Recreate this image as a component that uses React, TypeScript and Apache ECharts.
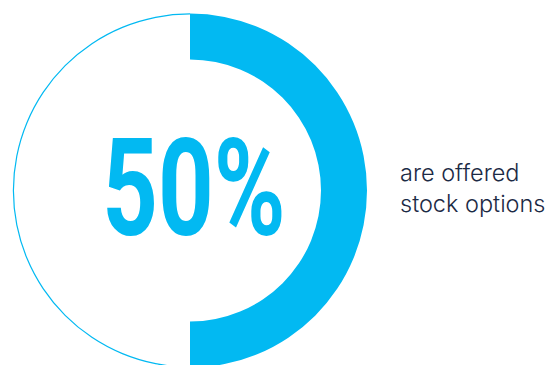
import React, { useEffect, useRef } from "react";
import * as echarts from "echarts";

const categories = ["are offered stock options", "are not offered stock options"];
const shareValues = [50, 50];
const captionLines = ["are offered", "stock options"];

const BLUE = "#02b9f2";
const TEXT = "#1c2a45";

export default function App() {
  const ref = useRef<HTMLDivElement>(null);
  useEffect(() => {
    if (!ref.current) return;
    const chart = echarts.init(ref.current, null, { renderer: "svg" });
    const ringData = categories.map((name, i) => ({
      name,
      value: shareValues[i],
      itemStyle: { color: i === 0 ? BLUE : "rgba(0,0,0,0)" },
    }));
    const outlineData = categories.map((name, i) => ({
      name,
      value: shareValues[i],
      itemStyle: { color: i === 0 ? "rgba(0,0,0,0)" : BLUE },
    }));
    chart.setOption({
      animation: false,
      backgroundColor: "#ffffff",
      series: [
        {
          type: "pie",
          center: [190, 190.5],
          radius: [131, 177],
          startAngle: 90,
          clockwise: true,
          silent: true,
          label: { show: false },
          labelLine: { show: false },
          data: ringData,
        },
        {
          type: "pie",
          center: [190, 190.5],
          radius: [176, 177.2],
          startAngle: 90,
          clockwise: true,
          silent: true,
          label: { show: false },
          labelLine: { show: false },
          data: outlineData,
        },
      ],
      graphic: [
        {
          type: "text",
          x: 194,
          y: 189,
          scaleX: 0.72,
          style: {
            text: `${shareValues[0]}%`,
            fontFamily: "Roboto",
            fontWeight: "bold",
            fontSize: 135,
            fill: BLUE,
            textAlign: "center",
            textVerticalAlign: "middle",
          },
        },
        {
          type: "text",
          x: 400,
          y: 157,
          style: {
            text: captionLines.join("\n"),
            fontFamily: "Inter",
            fontWeight: 300,
            fontSize: 23.5,
            lineHeight: 31,
            fill: TEXT,
            textAlign: "left",
            textVerticalAlign: "top",
          },
        },
      ],
    });
    return () => chart.dispose();
  }, []);
  return (
    <div
      ref={ref}
      style={{ position: "absolute", left: 0, top: 0, width: 551, height: 365 }}
    />
  );
}
